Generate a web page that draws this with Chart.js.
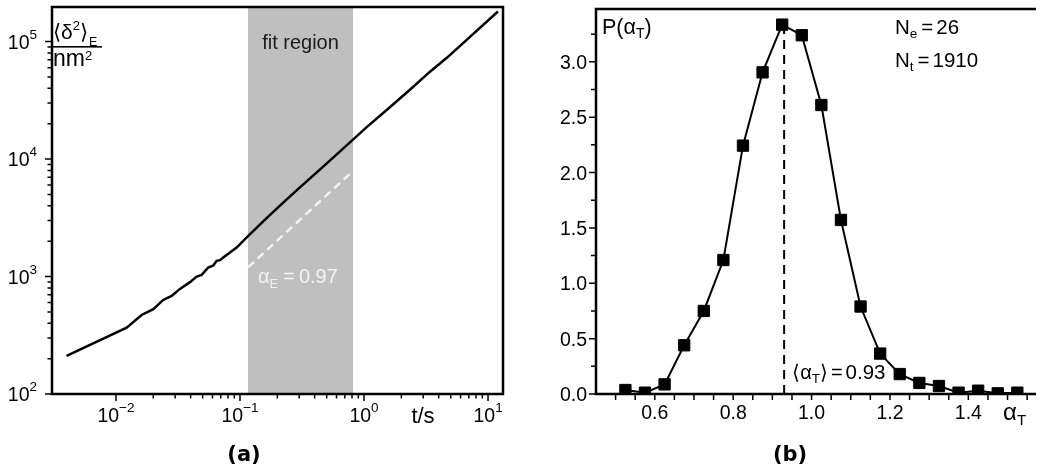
<!DOCTYPE html>
<html>
<head>
<meta charset="utf-8">
<script src="https://cdn.jsdelivr.net/npm/chart.js@4.4.0/dist/chart.umd.min.js"></script>
<style>
  html, body { margin: 0; padding: 0; background: #fff; }
  #wrap { position: relative; width: 1043px; height: 476px; overflow: hidden; }
  canvas { position: absolute; top: 0; }
  #msdChart { left: 0; }
  #alphaChart { left: 520px; }
</style>
</head>
<body>
<div id="wrap">
  <canvas id="msdChart" width="520" height="476"></canvas>
  <canvas id="alphaChart" width="523" height="476"></canvas>
</div>
<script>
// (a) ensemble averaged MSD against lag time
var lagTime = [0.0040, 0.01219, 0.0161, 0.0200, 0.02404, 0.02812, 0.0328, 0.03954, 0.04477, 0.04909,
  0.05546, 0.06093, 0.06486, 0.06902, 0.07328, 0.09397, 0.1205, 0.168, 0.2265, 0.3105, 0.4498,
  0.815, 1.057, 1.531, 2.344, 3.404, 4.677, 6.761, 12.02];
var msdE = [211, 367, 471, 527, 632, 684, 785, 896, 1000, 1033,
  1194, 1242, 1361, 1380, 1453, 1766, 2300, 3220, 4320, 5850, 8300,
  14620, 18800, 26300, 38900, 55460, 73100, 104000, 180300];
var fitRegion = [0.116, 0.815];
var fitTime = [0.116, 0.815];
var fitMsd = [1195, 7910];
var alphaE = '0.97';
var decadesX = [-2, -1, 0, 1];
var decadesY = [2, 3, 4, 5];

// (b) distribution of time averaged exponents
var alphaBins = [0.525, 0.575, 0.625, 0.675, 0.725, 0.775, 0.825, 0.875, 0.925, 0.975, 1.025,
  1.075, 1.125, 1.175, 1.225, 1.275, 1.325, 1.375, 1.425, 1.475, 1.525];
var pAlpha = [0.036, 0.012, 0.087, 0.44, 0.75, 1.21, 2.243, 2.905, 3.336, 3.24, 2.61,
  1.572, 0.79, 0.365, 0.18, 0.10, 0.072, 0.012, 0.03, 0.006, 0.012];
var meanAlpha = 0.93;
var meanAlphaTop = 3.33;
var nEnsemble = 26;
var nTraces = 1910;
var alphaTicks = [0.6, 0.8, 1.0, 1.2, 1.4];
var pTicks = [0.0, 0.5, 1.0, 1.5, 2.0, 2.5, 3.0];

var FONT = '"Liberation Sans", Arial, sans-serif';

// draws a run of text pieces (sub/superscripts) starting at x, baseline y
function drawRich(ctx, parts, x, y, align, color) {
  var total = 0;
  parts.forEach(function(p) {
    ctx.font = (p.f || 19.5) + 'px ' + FONT;
    p.w = ctx.measureText(p.t).width;
    total += p.w + (p.pad || 0);
  });
  var cx = x;
  if (align === 'center') cx = x - total / 2;
  if (align === 'right') cx = x - total;
  ctx.fillStyle = color || '#000';
  ctx.textAlign = 'left';
  ctx.textBaseline = 'alphabetic';
  parts.forEach(function(p) {
    cx += (p.pad || 0);
    ctx.font = (p.f || 19.5) + 'px ' + FONT;
    ctx.fillText(p.t, cx, y + (p.dy || 0));
    cx += p.w;
  });
  return total;
}

function expText(e) {
  return e < 0 ? '\u2212' + (-e) : String(e);
}

var msdDecor = {
  id: 'msdDecor',
  beforeDatasetsDraw: function(chart) {
    var ctx = chart.ctx, area = chart.chartArea, xs = chart.scales.x;
    var x0 = xs.getPixelForValue(fitRegion[0]);
    var x1 = xs.getPixelForValue(fitRegion[1]);
    ctx.save();
    ctx.fillStyle = '#bfbfbf';
    ctx.fillRect(x0, area.top, x1 - x0, area.bottom - area.top);
    ctx.fillStyle = '#1a1a1a';
    ctx.font = '20px ' + FONT;
    ctx.textAlign = 'center';
    ctx.fillText('fit region', (x0 + x1) / 2, 49);
    ctx.restore();
  },
  afterDraw: function(chart) {
    var ctx = chart.ctx, area = chart.chartArea;
    var xs = chart.scales.x, ys = chart.scales.y;
    ctx.save();
    ctx.strokeStyle = '#000';
    ctx.lineWidth = 1.5;
    ctx.beginPath();
    // major and minor ticks, outward
    decadesX.forEach(function(e) {
      var px = xs.getPixelForValue(Math.pow(10, e));
      ctx.moveTo(px, area.bottom); ctx.lineTo(px, area.bottom + 7);
      for (var k = 2; k <= 9; k++) {
        var v = k * Math.pow(10, e);
        if (v > xs.max) break;
        var mx = xs.getPixelForValue(v);
        ctx.moveTo(mx, area.bottom); ctx.lineTo(mx, area.bottom + 4.5);
      }
    });
    decadesY.forEach(function(e) {
      var py = ys.getPixelForValue(Math.pow(10, e));
      ctx.moveTo(area.left, py); ctx.lineTo(area.left - 7, py);
      for (var k = 2; k <= 9; k++) {
        var v = k * Math.pow(10, e);
        if (v > ys.max) break;
        var my = ys.getPixelForValue(v);
        ctx.moveTo(area.left, my); ctx.lineTo(area.left - 4.5, my);
      }
    });
    ctx.stroke();

    ctx.lineWidth = 2.5;
    ctx.strokeRect(area.left, area.top, area.right - area.left, area.bottom - area.top);

    decadesX.forEach(function(e) {
      var px = xs.getPixelForValue(Math.pow(10, e));
      drawRich(ctx, [{ t: '10' }, { t: expText(e), f: 13.5, dy: -10 }], px, area.bottom + 28, 'center');
    });
    decadesY.forEach(function(e) {
      var py = ys.getPixelForValue(Math.pow(10, e));
      drawRich(ctx, [{ t: '10' }, { t: expText(e), f: 13.5, dy: -10 }], 37, py + 7, 'right');
    });

    // axis titles
    ctx.font = '22px ' + FONT;
    ctx.fillStyle = '#000';
    ctx.textAlign = 'center';
    ctx.fillText('t/s', 423, 423);
    drawRich(ctx, [{ t: '\u27E8', f: 21 }, { t: '\u03B4', f: 21 }, { t: '2', f: 13, dy: -8.5 },
      { t: '\u27E9', f: 21 }, { t: 'E', f: 12.5, pad: 1, dy: 7 }], 53, 38.5, 'left');
    ctx.fillRect(53, 46, 49, 1.6);
    drawRich(ctx, [{ t: 'nm', f: 23 }, { t: '2', f: 13, dy: -5.5 }], 53, 65.5, 'left');

    // fit exponent
    drawRich(ctx, [{ t: '\u03B1', f: 20 }, { t: 'E', f: 13, dy: 5 }, { t: '=', f: 20, pad: 5 },
      { t: alphaE, f: 20, pad: 4 }], 258, 283, 'left', '#f2f2f2');

    ctx.font = 'bold 21px "DejaVu Sans", sans-serif';
    ctx.fillStyle = '#000';
    ctx.textAlign = 'center';
    ctx.textBaseline = 'middle';
    ctx.fillText('(a)', 244, 456);
    ctx.restore();
  }
};

var alphaDecor = {
  id: 'alphaDecor',
  afterDraw: function(chart) {
    var ctx = chart.ctx, area = chart.chartArea;
    var xs = chart.scales.x, ys = chart.scales.y;
    ctx.save();
    ctx.strokeStyle = '#000';
    ctx.lineWidth = 1.5;
    ctx.beginPath();
    for (var i = 1; 0.45 + i * 0.05 < xs.max; i++) {
      var px = xs.getPixelForValue(0.45 + i * 0.05);
      ctx.moveTo(px, area.bottom); ctx.lineTo(px, area.bottom + 6);
    }
    for (var j = 0; j * 0.25 < ys.max; j++) {
      var py = ys.getPixelForValue(j * 0.25);
      ctx.moveTo(area.left, py); ctx.lineTo(area.left - (j % 2 === 0 ? 7 : 5), py);
    }
    ctx.stroke();

    ctx.lineWidth = 2.5;
    ctx.beginPath();
    ctx.moveTo(area.right + 2, area.top);
    ctx.lineTo(area.left, area.top);
    ctx.lineTo(area.left, area.bottom);
    ctx.lineTo(area.right + 2, area.bottom);
    ctx.stroke();

    alphaTicks.forEach(function(v) {
      drawRich(ctx, [{ t: v.toFixed(1) }], xs.getPixelForValue(v), 418.5, 'center');
    });
    pTicks.forEach(function(v) {
      drawRich(ctx, [{ t: v.toFixed(1) }], area.left - 9, ys.getPixelForValue(v) + 7, 'right');
    });

    // canvas is offset 520px, so text positions here are local
    drawRich(ctx, [{ t: 'P(', f: 21.5 }, { t: '\u03B1', f: 21.5 }, { t: 'T', f: 14, dy: 4 }, { t: ')', f: 21.5 }],
      area.left + 6, 34, 'left');
    drawRich(ctx, [{ t: 'N', f: 20.5 }, { t: 'e', f: 13.5, dy: 4 }, { t: '=', f: 20.5, pad: 4 },
      { t: String(nEnsemble), f: 20.5, pad: 3 }], 375, 33.5, 'left');
    drawRich(ctx, [{ t: 'N', f: 20.5 }, { t: 't', f: 13.5, dy: 4 }, { t: '=', f: 20.5, pad: 4 },
      { t: String(nTraces), f: 20.5, pad: 3 }], 375, 66.5, 'left');
    drawRich(ctx, [{ t: '\u27E8', f: 20 }, { t: '\u03B1', f: 20 }, { t: 'T', f: 13.5, dy: 4 }, { t: '\u27E9', f: 20 },
      { t: '=', f: 20, pad: 3 }, { t: meanAlpha.toFixed(2), f: 20.5, pad: 3 }],
      xs.getPixelForValue(meanAlpha) + 8, 378.5, 'left');
    drawRich(ctx, [{ t: '\u03B1', f: 24 }, { t: 'T', f: 15, dy: 5 }], 483, 420, 'left');

    ctx.font = 'bold 21px "DejaVu Sans", sans-serif';
    ctx.fillStyle = '#000';
    ctx.textAlign = 'center';
    ctx.textBaseline = 'middle';
    ctx.fillText('(b)', 270, 456);
    ctx.restore();
  }
};

function hiddenScale(extra) {
  var s = {
    display: true,
    grid: { display: false, drawTicks: false },
    border: { display: false },
    ticks: { display: false }
  };
  for (var k in extra) s[k] = extra[k];
  return s;
}

new Chart(document.getElementById('msdChart').getContext('2d'), {
  type: 'line',
  data: {
    datasets: [{
      label: 'MSD',
      data: lagTime.map(function(t, i) { return { x: t, y: msdE[i] }; }),
      borderColor: '#000',
      borderWidth: 2.5,
      pointRadius: 0,
      tension: 0,
      fill: false
    }, {
      label: 'fit',
      data: fitTime.map(function(t, i) { return { x: t, y: fitMsd[i] }; }),
      borderColor: '#f2f2f2',
      borderWidth: 2.5,
      borderDash: [8, 5],
      pointRadius: 0,
      fill: false
    }]
  },
  options: {
    responsive: false,
    animation: false,
    events: [],
    layout: { padding: { left: 0, top: 7, right: 17, bottom: 0 } },
    plugins: { legend: { display: false }, tooltip: { enabled: false } },
    scales: {
      x: hiddenScale({ type: 'logarithmic', min: 0.00305, max: 13.2,
        afterFit: function(s) { s.height = 82; } }),
      y: hiddenScale({ type: 'logarithmic', min: 100, max: 197000,
        afterFit: function(s) { s.width = 52; } })
    }
  },
  plugins: [msdDecor]
});

new Chart(document.getElementById('alphaChart').getContext('2d'), {
  type: 'line',
  data: {
    datasets: [{
      label: 'P',
      data: alphaBins.map(function(a, i) { return { x: a, y: pAlpha[i] }; }),
      borderColor: '#000',
      backgroundColor: '#000',
      borderWidth: 2,
      pointStyle: 'rect',
      pointRadius: 8,
      pointBorderWidth: 1,
      tension: 0,
      fill: false
    }, {
      label: 'mean',
      data: [{ x: meanAlpha, y: 0 }, { x: meanAlpha, y: meanAlphaTop }],
      borderColor: '#000',
      borderWidth: 2,
      borderDash: [9, 6],
      pointRadius: 0,
      fill: false
    }]
  },
  options: {
    responsive: false,
    animation: false,
    events: [],
    layout: { padding: { left: 0, top: 7, right: 0, bottom: 0 } },
    plugins: { legend: { display: false }, tooltip: { enabled: false } },
    scales: {
      x: hiddenScale({ type: 'linear', min: 0.45, max: 1.5675,
        afterFit: function(s) { s.height = 82; } }),
      y: hiddenScale({ type: 'linear', min: 0, max: 3.477,
        afterFit: function(s) { s.width = 76; } })
    }
  },
  plugins: [alphaDecor]
});
</script>
</body>
</html>
